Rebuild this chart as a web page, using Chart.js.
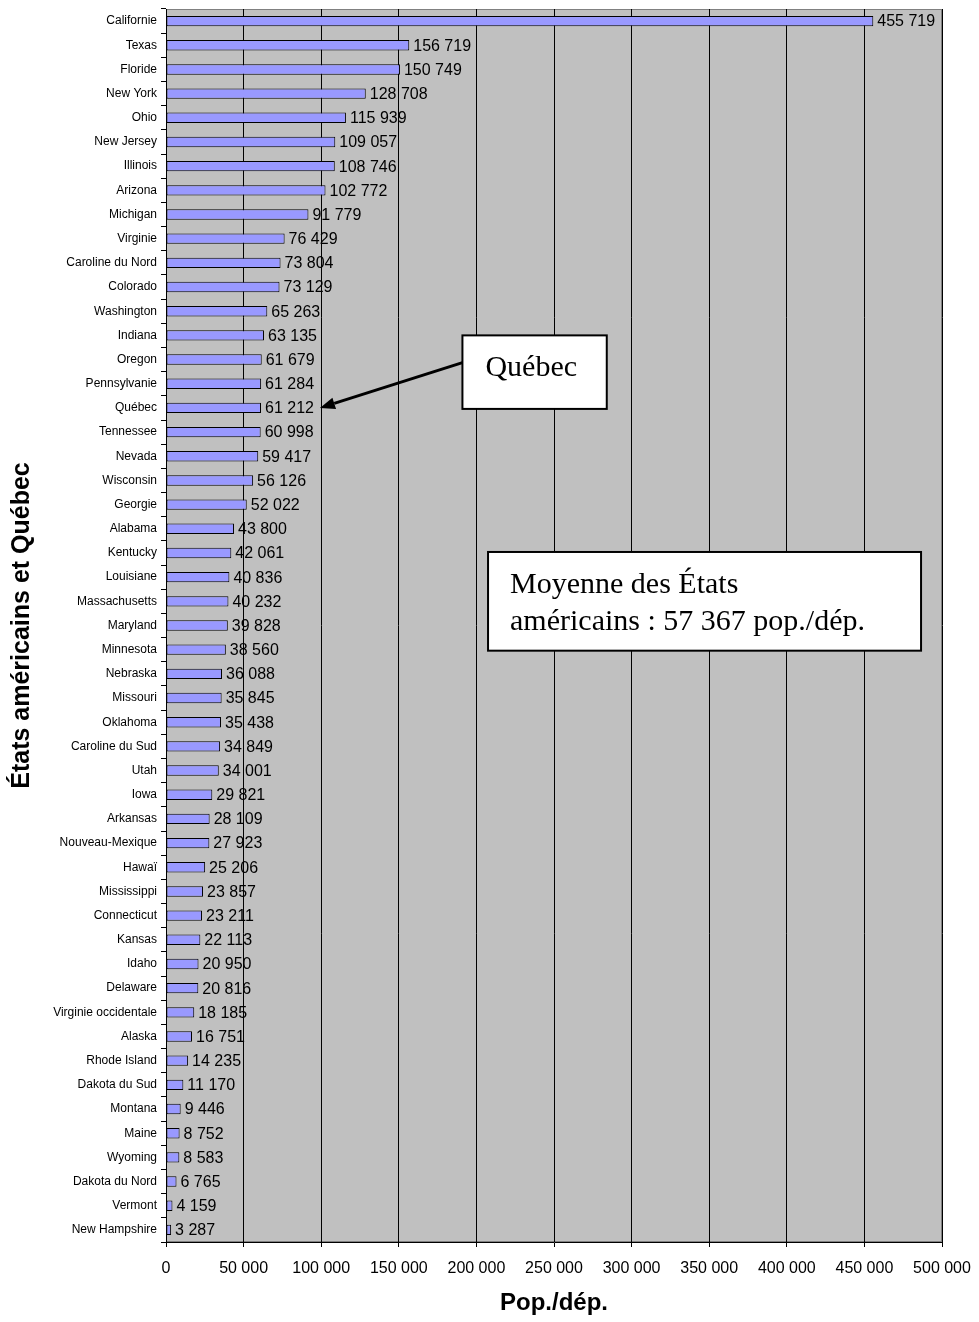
<!DOCTYPE html>
<html>
<head>
<meta charset="utf-8">
<script src="https://cdn.jsdelivr.net/npm/chart.js@4/dist/chart.umd.min.js"></script>
<style>
  html, body { margin: 0; padding: 0; background: #fff; }
  #wrap { width: 979px; height: 1322px; }
</style>
</head>
<body>
<div id="wrap"><canvas id="popdep"></canvas></div>
<script>
const states = ["Californie", "Texas", "Floride", "New York", "Ohio", "New Jersey", "Illinois", "Arizona",
  "Michigan", "Virginie", "Caroline du Nord", "Colorado", "Washington", "Indiana", "Oregon", "Pennsylvanie",
  "Québec", "Tennessee", "Nevada", "Wisconsin", "Georgie", "Alabama", "Kentucky", "Louisiane",
  "Massachusetts", "Maryland", "Minnesota", "Nebraska", "Missouri", "Oklahoma", "Caroline du Sud", "Utah",
  "Iowa", "Arkansas", "Nouveau-Mexique", "Hawaï", "Mississippi", "Connecticut", "Kansas", "Idaho",
  "Delaware", "Virginie occidentale", "Alaska", "Rhode Island", "Dakota du Sud", "Montana", "Maine",
  "Wyoming", "Dakota du Nord", "Vermont", "New Hampshire"];

const popPerDep = [455719, 156719, 150749, 128708, 115939, 109057, 108746, 102772,
  91779, 76429, 73804, 73129, 65263, 63135, 61679, 61284,
  61212, 60998, 59417, 56126, 52022, 43800, 42061, 40836,
  40232, 39828, 38560, 36088, 35845, 35438, 34849, 34001,
  29821, 28109, 27923, 25206, 23857, 23211, 22113, 20950,
  20816, 18185, 16751, 14235, 11170, 9446, 8752,
  8583, 6765, 4159, 3287];

const xMax = 500000;
const xStep = 50000;
const usAverage = 57367;

const SANS = "'Liberation Sans', Arial, sans-serif";
const SERIF = "'Liberation Serif', 'Times New Roman', serif";

function spaced(n) {
  return String(n).replace(/\B(?=(\d{3})+(?!\d))/g, " ");
}

// gray plot background + border
const plotBg = {
  id: "plotBg",
  beforeDraw(chart) {
    const { ctx, chartArea: a } = chart;
    ctx.save();
    ctx.fillStyle = "#C0C0C0";
    ctx.fillRect(a.left, a.top, a.right - a.left, a.bottom - a.top);
    ctx.strokeStyle = "#808080";
    ctx.lineWidth = 1;
    ctx.strokeRect(a.left + 0.5, a.top + 0.5, a.right - a.left - 1, a.bottom - a.top - 1);
    ctx.restore();
  }
};

// value labels right of each bar
const valueLabels = {
  id: "valueLabels",
  afterDatasetsDraw(chart) {
    const { ctx } = chart;
    const meta = chart.getDatasetMeta(0);
    ctx.save();
    ctx.font = "16px " + SANS;
    ctx.fillStyle = "#000";
    ctx.textAlign = "left";
    ctx.textBaseline = "middle";
    meta.data.forEach((bar, i) => {
      ctx.fillText(spaced(popPerDep[i]), bar.x + 4, bar.y + 1);
    });
    ctx.restore();
  }
};

// text boxes + arrow
const notes = {
  id: "notes",
  afterDraw(chart) {
    const { ctx } = chart;
    const xs = chart.scales.x, ys = chart.scales.y;
    const y0 = ys.getPixelForValue(0);
    const step = ys.getPixelForValue(1) - y0;
    const yPix = k => y0 + k * step;
    const qIdx = states.indexOf("Québec");

    ctx.save();
    // Québec box
    const b1 = { l: xs.getPixelForValue(191000), r: xs.getPixelForValue(284000), t: yPix(qIdx - 3), b: yPix(qIdx) + 1 };
    ctx.fillStyle = "#fff";
    ctx.fillRect(b1.l, b1.t, b1.r - b1.l, b1.b - b1.t);
    ctx.strokeStyle = "#000";
    ctx.lineWidth = 2;
    ctx.strokeRect(b1.l, b1.t, b1.r - b1.l, b1.b - b1.t);
    ctx.fillStyle = "#000";
    ctx.font = "30px " + SERIF;
    ctx.textAlign = "left";
    ctx.textBaseline = "alphabetic";
    ctx.fillText("Québec", b1.l + 23, yPix(qIdx) - 32);

    // arrow to the Québec bar label
    const bar = chart.getDatasetMeta(0).data[qIdx];
    ctx.font = "16px " + SANS;
    const tipX = bar.x + 4 + ctx.measureText(spaced(popPerDep[qIdx])).width + 6;
    const tipY = bar.y;
    const sx = b1.l, sy = yPix(qIdx - 2) + 3;
    const ang = Math.atan2(tipY - sy, tipX - sx);
    const hl = 15, hw = 6;
    const bx = tipX - hl * Math.cos(ang), by = tipY - hl * Math.sin(ang);
    ctx.lineWidth = 3;
    ctx.beginPath();
    ctx.moveTo(sx, sy);
    ctx.lineTo(bx, by);
    ctx.stroke();
    ctx.beginPath();
    ctx.moveTo(tipX, tipY);
    ctx.lineTo(bx + hw * Math.sin(ang), by - hw * Math.cos(ang));
    ctx.lineTo(bx - hw * Math.sin(ang), by + hw * Math.cos(ang));
    ctx.closePath();
    ctx.fill();

    // average box
    const b2 = { l: xs.getPixelForValue(207500), r: xs.getPixelForValue(486500), t: yPix(22) - 1, b: yPix(26) + 1 };
    ctx.fillStyle = "#fff";
    ctx.fillRect(b2.l, b2.t, b2.r - b2.l, b2.b - b2.t);
    ctx.lineWidth = 2;
    ctx.strokeRect(b2.l, b2.t, b2.r - b2.l, b2.b - b2.t);
    ctx.fillStyle = "#000";
    ctx.font = "30px " + SERIF;
    ctx.fillText("Moyenne des États", b2.l + 22, b2.t + 41);
    ctx.fillText("américains : " + spaced(usAverage) + " pop./dép.", b2.l + 22, b2.t + 78);
    ctx.restore();
  }
};

new Chart(document.getElementById("popdep"), {
  type: "bar",
  data: {
    labels: states,
    datasets: [{
      data: popPerDep,
      backgroundColor: "#9999FF",
      borderColor: "#000",
      borderWidth: 1,
      borderSkipped: false,
      barPercentage: 0.43,
      categoryPercentage: 1
    }]
  },
  options: {
    indexAxis: "y",
    responsive: true,
    maintainAspectRatio: false,
    animation: false,
    layout: { padding: { top: 9, right: 37, bottom: 0, left: 0 } },
    plugins: {
      legend: { display: false },
      tooltip: { enabled: false }
    },
    scales: {
      x: {
        min: 0,
        max: xMax,
        afterFit(scale) {
          scale.height = 80;
          scale.paddingLeft = 0;
          scale.paddingRight = 0;
        },
        ticks: {
          stepSize: xStep,
          color: "#000",
          padding: 12,
          maxRotation: 0,
          font: { family: SANS, size: 16 },
          callback: v => spaced(v)
        },
        grid: { color: "#000", lineWidth: 1, tickLength: 5, drawOnChartArea: true },
        border: { color: "#000", width: 1 },
        title: {
          display: true,
          text: "Pop./dép.",
          color: "#000",
          font: { family: SANS, size: 24, weight: "bold" },
          padding: { top: 0, bottom: 4 }
        }
      },
      y: {
        afterFit(scale) {
          scale.width = 166;
          scale.paddingTop = 0;
          scale.paddingBottom = 0;
        },
        ticks: {
          color: "#000",
          padding: 4,
          autoSkip: false,
          font: { family: SANS, size: 12 }
        },
        grid: { offset: true, drawOnChartArea: false, color: "#000", tickLength: 5 },
        border: { color: "#000", width: 1 },
        title: {
          display: true,
          text: "États américains et Québec",
          color: "#000",
          font: { family: SANS, size: 25, weight: "bold" },
          padding: { top: 7, bottom: 0 }
        }
      }
    }
  },
  plugins: [plotBg, valueLabels, notes]
});
</script>
</body>
</html>
